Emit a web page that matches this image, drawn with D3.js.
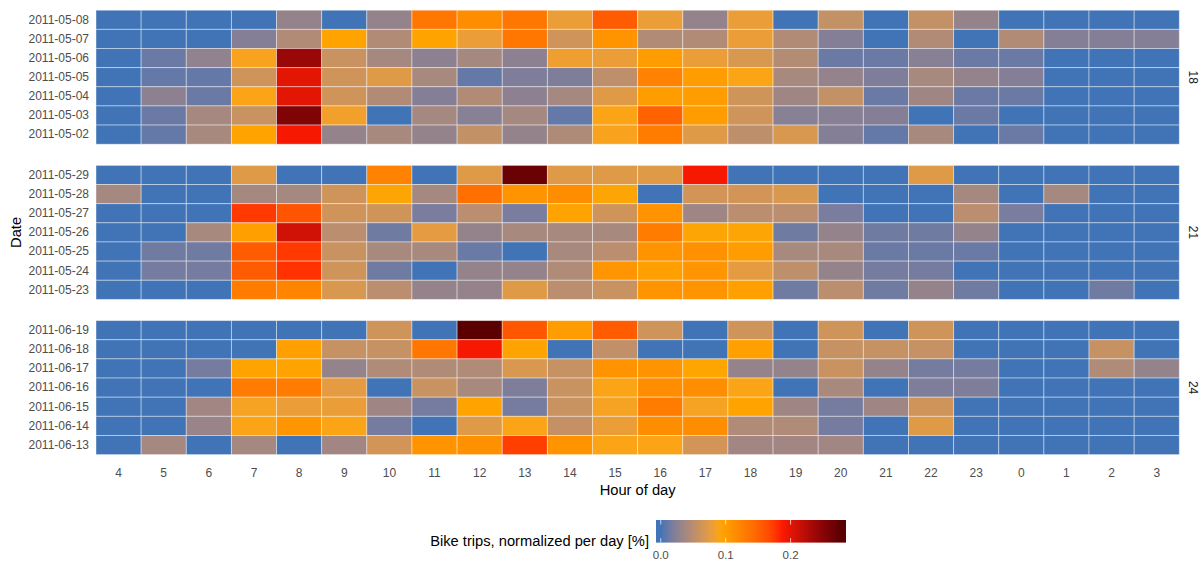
<!DOCTYPE html>
<html>
<head>
<meta charset="utf-8">
<script src="https://cdn.jsdelivr.net/npm/d3@7"></script>
<style>
  html, body { margin: 0; padding: 0; background: #fff; }
  svg { display: block; font-family: "Liberation Sans", Arial, Helvetica, sans-serif; }
</style>
</head>
<body>
<svg id="chart" width="1203" height="562"></svg>
<script>
// Hour columns, in the order shown on the x axis (day starts at 4 am)
const hours = [4,5,6,7,8,9,10,11,12,13,14,15,16,17,18,19,20,21,22,23,0,1,2,3];

// Facets: calendar weeks
const weeks = ["18", "21", "24"];

// Dates per week, top row first
const datesW18 = ["2011-05-08","2011-05-07","2011-05-06","2011-05-05","2011-05-04","2011-05-03","2011-05-02"];
const datesW21 = ["2011-05-29","2011-05-28","2011-05-27","2011-05-26","2011-05-25","2011-05-24","2011-05-23"];
const datesW24 = ["2011-06-19","2011-06-18","2011-06-17","2011-06-16","2011-06-15","2011-06-14","2011-06-13"];

// Share of the day's bike trips per hour [%], one row per date (same order as dates)
const tripsW18 = [
  [0,0,0,0,0.03,0,0.03,0.135,0.115,0.135,0.08,0.155,0.08,0.03,0.08,0,0.055,0,0.055,0.03,0,0,0,0],
  [0,0,0,0.022,0.045,0.095,0.045,0.095,0.08,0.135,0.062,0.11,0.045,0.045,0.08,0.045,0.022,0,0.045,0,0.045,0.022,0.022,0.022],
  [0,0.012,0.028,0.088,0.24,0.058,0.038,0.026,0.038,0.026,0.082,0.08,0.1,0.08,0.068,0.046,0.012,0.012,0.024,0.012,0.012,0,0,0],
  [0,0.01,0.01,0.062,0.2,0.062,0.072,0.04,0.01,0.02,0.02,0.052,0.125,0.1,0.09,0.04,0.03,0.02,0.04,0.03,0.022,0,0,0],
  [0,0.026,0.012,0.09,0.2,0.062,0.045,0.022,0.045,0.026,0.038,0.072,0.1,0.1,0.062,0.035,0.055,0.012,0.035,0.012,0.012,0,0,0],
  [0,0.012,0.038,0.058,0.255,0.084,0,0.038,0.024,0.038,0.01,0.09,0.15,0.1,0.062,0.024,0.024,0.022,0,0.012,0,0,0,0],
  [0,0.01,0.04,0.095,0.19,0.03,0.04,0.03,0.055,0.03,0.043,0.088,0.13,0.072,0.052,0.068,0.022,0.01,0.04,0,0.012,0,0,0]
];
const tripsW21 = [
  [0,0,0,0.072,0,0,0.125,0,0.072,0.268,0.072,0.072,0.072,0.19,0,0,0,0,0.072,0,0,0,0,0],
  [0.038,0,0,0.038,0.038,0.062,0.092,0.038,0.14,0.11,0.115,0.092,0,0.064,0.064,0.068,0,0,0,0.038,0,0.038,0,0],
  [0,0,0,0.175,0.16,0.062,0.062,0.018,0.05,0.018,0.095,0.062,0.11,0.035,0.05,0.05,0.018,0,0,0.05,0.018,0,0,0],
  [0,0,0.04,0.097,0.21,0.05,0.014,0.075,0.03,0.04,0.04,0.04,0.13,0.092,0.092,0.014,0.03,0.014,0.014,0.03,0,0,0,0],
  [0,0.014,0.014,0.155,0.175,0.058,0.04,0.04,0.012,0,0.04,0.05,0.11,0.112,0.1,0.04,0.04,0.012,0.012,0.012,0,0,0,0],
  [0,0.016,0.016,0.155,0.178,0.062,0.014,0,0.03,0.03,0.044,0.108,0.098,0.108,0.075,0.052,0.03,0.016,0.016,0,0,0,0,0],
  [0,0,0,0.13,0.122,0.068,0.05,0.03,0.03,0.072,0.05,0.058,0.11,0.11,0.097,0.014,0.05,0.014,0.03,0.014,0,0,0.014,0]
];
const tripsW24 = [
  [0,0,0,0,0,0,0.062,0,0.278,0.158,0.1,0.155,0.062,0,0.062,0,0.062,0,0.062,0,0,0,0,0],
  [0,0,0,0,0.097,0.057,0.057,0.135,0.19,0.095,0,0.054,0,0,0.097,0,0.057,0.057,0.057,0,0,0,0.057,0],
  [0,0,0.016,0.095,0.095,0.03,0.044,0.044,0.044,0.068,0.057,0.11,0.11,0.093,0.03,0.03,0.058,0.03,0.016,0.016,0,0,0.044,0.03],
  [0,0,0,0.13,0.13,0.075,0,0.058,0.04,0.02,0.058,0.09,0.115,0.115,0.09,0,0.04,0,0.02,0.02,0,0,0,0],
  [0,0,0.036,0.087,0.08,0.08,0.035,0.016,0.095,0.016,0.058,0.087,0.13,0.087,0.095,0.035,0.016,0.035,0.062,0,0,0,0,0],
  [0,0,0.032,0.09,0.108,0.09,0.016,0,0.072,0.09,0.056,0.08,0.115,0.115,0.044,0.044,0.016,0,0.072,0,0,0,0,0],
  [0,0.038,0,0.038,0,0.036,0.064,0.11,0.112,0.172,0.11,0.09,0.09,0.064,0.036,0.036,0.036,0,0,0,0,0,0,0]
];

// Colour legend ticks
const legendTicks = [0, 0.1, 0.2];

const panelDates = [datesW18, datesW21, datesW24];
const panelTrips = [tripsW18, tripsW21, tripsW24];

const svg = d3.select("#chart");

// ---- layout ----
const plotLeft = 96, plotRight = 1179.3;
const panelTop0 = 10.2, panelStep = 155.2, panelH = 134;

const x = d3.scaleBand().domain(hours.map(String)).range([plotLeft, plotRight]).padding(0);

// Colour scale: blue -> orange -> red -> dark red, interpolated in Lab
const maxVal = 0.278;
const color = d3.scaleLinear()
  .domain([0, maxVal / 3, 2 * maxVal / 3, maxVal])
  .range(["#4174b6", "#ffa500", "#ff1a00", "#5a0000"])
  .interpolate(d3.interpolateLab)
  .clamp(true);

const tickGrey = "#4d4d4d";

weeks.forEach((wk, i) => {
  const top = panelTop0 + i * panelStep;
  const y = d3.scaleBand().domain(panelDates[i]).range([top, top + panelH]).padding(0);

  const cells = [];
  panelDates[i].forEach((d, r) => {
    hours.forEach((h, c) => cells.push({ date: d, hour: String(h), v: panelTrips[i][r][c] }));
  });

  const g = svg.append("g").attr("class", "panel");
  g.selectAll("rect")
    .data(cells)
    .join("rect")
    .attr("x", d => x(d.hour))
    .attr("y", d => y(d.date))
    .attr("width", x.bandwidth())
    .attr("height", y.bandwidth())
    .attr("fill", d => color(d.v))
    .attr("stroke", "rgba(255,255,255,0.45)")
    .attr("stroke-width", 0.9);

  // date labels
  const yAxis = d3.axisLeft(y).tickSize(0).tickPadding(7);
  const ya = svg.append("g").attr("transform", `translate(${plotLeft},0)`).call(yAxis);
  ya.select(".domain").remove();
  ya.selectAll("text").attr("fill", tickGrey).style("font-size", "12px")
    .style("font-family", "'Liberation Sans', Arial, sans-serif");

  // facet strip label (rotated, reading top to bottom)
  svg.append("text")
    .attr("transform", `translate(${1189},${top + panelH / 2}) rotate(90)`)
    .attr("text-anchor", "middle")
    .attr("fill", "#1a1a1a")
    .style("font-size", "12px")
    .text(wk);
});

// hour labels along the bottom
const lastBottom = panelTop0 + 2 * panelStep + panelH;
const xAxis = d3.axisBottom(x).tickSize(0).tickPadding(14);
const xa = svg.append("g").attr("transform", `translate(0,${lastBottom})`).call(xAxis);
xa.select(".domain").remove();
xa.selectAll("text").attr("fill", tickGrey).style("font-size", "12px")
  .style("font-family", "'Liberation Sans', Arial, sans-serif");

// axis titles
svg.append("text")
  .attr("x", (plotLeft + plotRight) / 2).attr("y", 495)
  .attr("text-anchor", "middle").attr("fill", "#000")
  .style("font-size", "14.7px").text("Hour of day");

svg.append("text")
  .attr("transform", `translate(21,${(panelTop0 + lastBottom) / 2}) rotate(-90)`)
  .attr("text-anchor", "middle").attr("fill", "#000")
  .style("font-size", "14.7px").text("Date");

// ---- colour legend ----
const barX0 = 656, barX1 = 846, barY = 520, barH = 22.6;
const binHalf = (barX1 - barX0) / 40;
const lx = d3.scaleLinear().domain([0, maxVal]).range([barX0 + binHalf, barX1 - binHalf]);

const defs = svg.append("defs");
const grad = defs.append("linearGradient")
  .attr("id", "tripsGradient")
  .attr("gradientUnits", "userSpaceOnUse")
  .attr("x1", lx(0)).attr("x2", lx(maxVal)).attr("y1", 0).attr("y2", 0);
d3.range(0, 1.0001, 1 / 40).forEach(t => {
  grad.append("stop").attr("offset", t).attr("stop-color", color(t * maxVal));
});

svg.append("rect")
  .attr("x", barX0).attr("y", barY)
  .attr("width", barX1 - barX0).attr("height", barH)
  .attr("fill", "url(#tripsGradient)");

legendTicks.forEach(t => {
  const tx = lx(t);
  svg.append("line").attr("x1", tx).attr("x2", tx).attr("y1", barY).attr("y2", barY + barH / 5)
    .attr("stroke", "rgba(255,255,255,0.7)").attr("stroke-width", 1);
  svg.append("line").attr("x1", tx).attr("x2", tx).attr("y1", barY + barH - barH / 5).attr("y2", barY + barH)
    .attr("stroke", "rgba(255,255,255,0.7)").attr("stroke-width", 1);
  svg.append("text").attr("x", tx).attr("y", 558.5)
    .attr("text-anchor", "middle").attr("fill", tickGrey)
    .style("font-size", "11.5px").text(d3.format(".1f")(t));
});

svg.append("text")
  .attr("x", 649).attr("y", 546)
  .attr("text-anchor", "end").attr("fill", "#000")
  .style("font-size", "14.7px").text("Bike trips, normalized per day [%]");
</script>
</body>
</html>
